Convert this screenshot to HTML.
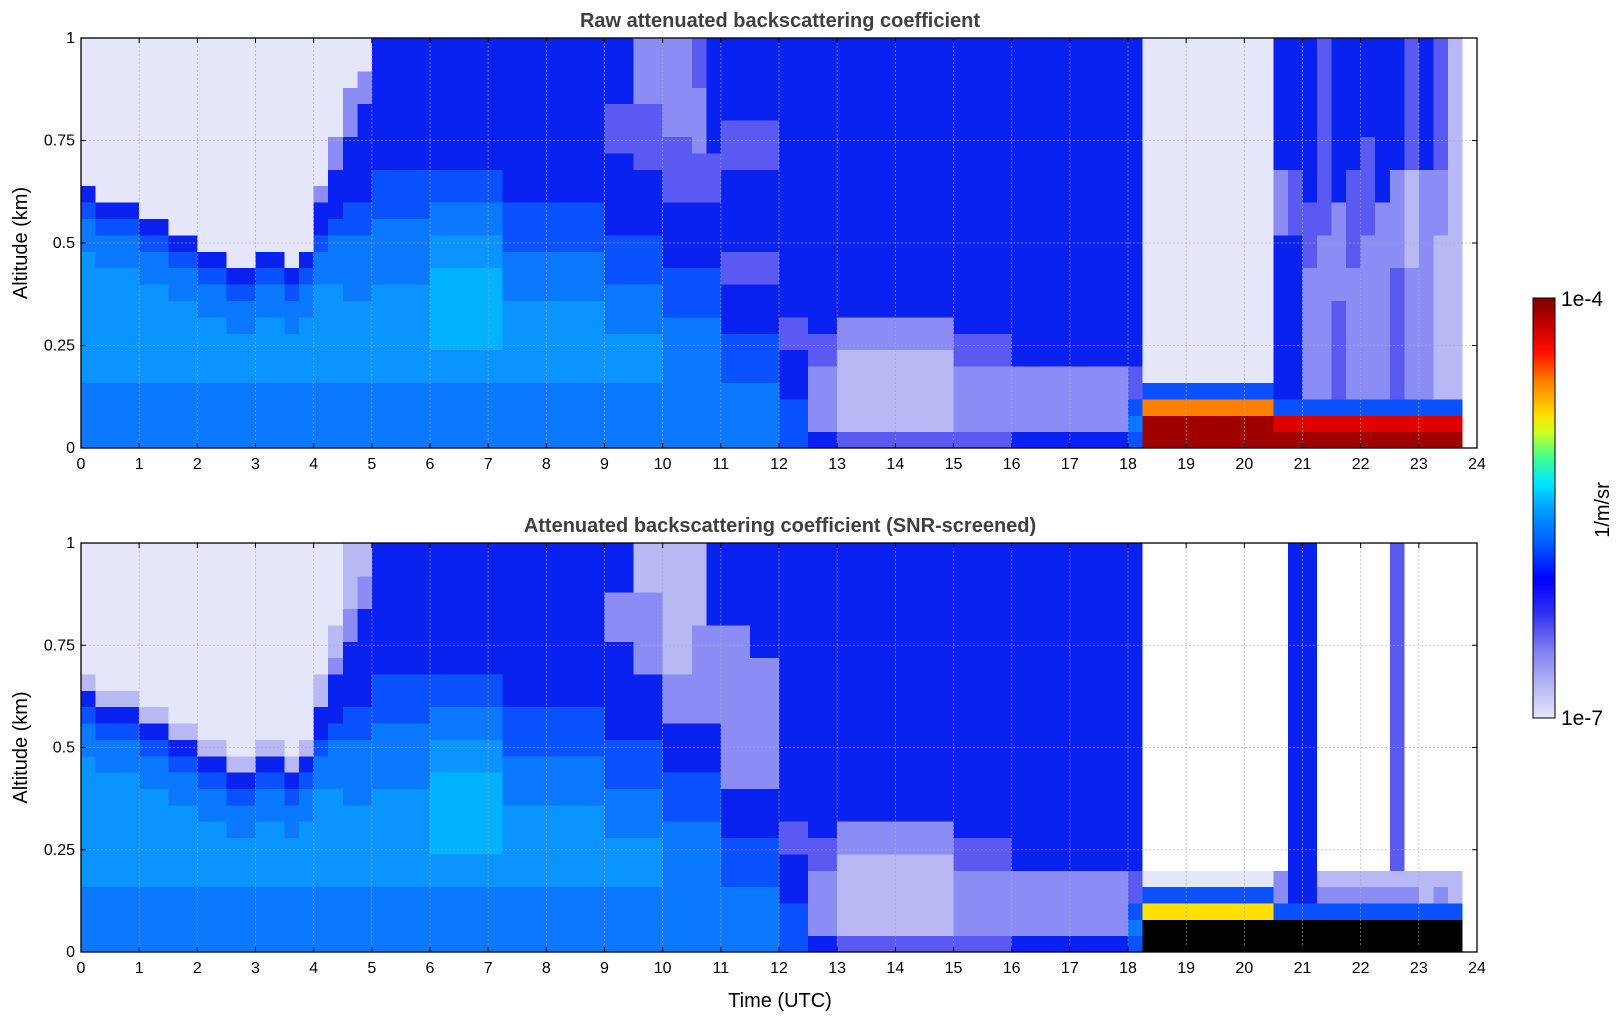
<!DOCTYPE html>
<html><head><meta charset="utf-8"><style>
body{margin:0;background:#fff;font-family:"Liberation Sans",sans-serif}
svg{display:block}
</style></head><body>
<svg id="chart" width="1621" height="1020" xmlns="http://www.w3.org/2000/svg"></svg>
<script>
// Heatmap data: one string per 0.25 h column, levels bottom->top in 0.04 km bins (RLE: "6x4" = level 6 four times)
const levelColors = {"0":"#e6e6fa","1":"#b8b8f5","2":"#8c8cf5","3":"#5a5af2","4":"#0a22f0","5":"#0a52ff","6":"#0a78ff","7":"#0a94ff","8":"#00b2ff","9":"#00e0ff","g":"#40ff80","y":"#ffe000","o":"#ff8000","r":"#e00000","d":"#a00000","k":"#000000","w":"#ffffff"};
const xTicks = [0,1,2,3,4,5,6,7,8,9,10,11,12,13,14,15,16,17,18,19,20,21,22,23,24];
const yTicks = [0,0.25,0.5,0.75,1];
const yTickLabels = ["0","0.25","0.5","0.75","1"];
const rawCols = [
"6x4 7x8 6x2 5 4 0x9","6x4 7x7 6x2 5 4 0x10","6x4 7x7 6x2 5 4 0x10","6x4 7x7 6x2 5 4 0x10",
"6x4 7x6 6x2 5 4 0x11","6x4 7x6 6x2 5 4 0x11","6x4 7x5 6x2 5 4 0x12","6x4 7x5 6x2 5 4 0x12",
"6x4 7x4 6x2 5 4 0x13","6x4 7x4 6x2 5 4 0x13","6x4 7x3 6x2 5 4 0x14","6x4 7x3 6x2 5 4 0x14",
"6x4 7x4 6x2 5 4 0x13","6x4 7x4 6x2 5 4 0x13","6x4 7x3 6x2 5 4 0x14","6x4 7x4 6x2 5 4 0x13",
"6x4 7x6 6x2 5 4x2 2 0x9","6x4 7x6 6x3 5 4x3 2x2 0x6","6x4 7x5 6x4 5x2 4x4 2x3 0x3","6x4 7x5 6x4 5x2 4x6 2x2 0x2",
"6x4 7x6 6x4 5x3 4x8","6x4 7x6 6x4 5x3 4x8","6x4 7x6 6x4 5x3 4x8","6x4 7x6 6x4 5x3 4x8",
"6x4 7x2 8x5 7x2 6x2 5x2 4x8","6x4 7x2 8x5 7x2 6x2 5x2 4x8","6x4 7x2 8x5 7x2 6x2 5x2 4x8","6x4 7x2 8x5 7x2 6x2 5x2 4x8","6x4 7x2 8x5 7x2 6x2 5x2 4x8",
"6x4 7x5 6x3 5x3 4x10","6x4 7x5 6x3 5x3 4x10","6x4 7x5 6x3 5x3 4x10","6x4 7x5 6x3 5x3 4x10","6x4 7x5 6x3 5x3 4x10","6x4 7x5 6x3 5x3 4x10","6x4 7x5 6x3 5x3 4x10",
"6x4 7x3 6x3 5x3 4x5 3x3 4x4","6x4 7x3 6x3 5x3 4x5 3x3 4x4","6x4 7x3 6x3 5x3 4x4 3x4 2x4","6x4 7x3 6x3 5x3 4x4 3x4 2x4",
"6x8 5x3 4x4 3x4 2x6","6x8 5x3 4x4 3x4 2x6","6x8 5x3 4x4 3x3 2x4 3x3","6x8 5x3 4x4 3x3 4x7",
"6x4 5x3 4x3 3x2 4x5 3x3 4x5","6x4 5x3 4x3 3x2 4x5 3x3 4x5","6x4 5x3 4x3 3x2 4x5 3x3 4x5","6x4 5x3 4x3 3x2 4x5 3x3 4x5",
"5x3 4x3 3x2 4x17","5x3 4x3 3x2 4x17","4 2x4 3x2 4x18","4 2x4 3x2 4x18",
"3 1x5 2x2 4x17","3 1x5 2x2 4x17","3 1x5 2x2 4x17","3 1x5 2x2 4x17","3 1x5 2x2 4x17","3 1x5 2x2 4x17","3 1x5 2x2 4x17","3 1x5 2x2 4x17",
"3 2x4 3x2 4x18","3 2x4 3x2 4x18","3 2x4 3x2 4x18","3 2x4 3x2 4x18",
"4 2x4 4x20","4 2x4 4x20","4 2x4 4x20","4 2x4 4x20","4 2x4 4x20","4 2x4 4x20","4 2x4 4x20","4 2x4 4x20",
"5 6 5 3x2 4x20",
"dx2 o 5 0x21","dx2 o 5 0x21","dx2 o 5 0x21","dx2 o 5 0x21","dx2 o 5 0x21","dx2 o 5 0x21","dx2 o 5 0x21","dx2 o 5 0x21","dx2 o 5 0x21",
"d r 5 4x10 2x4 4x8","d r 5 4x10 3x4 4x8","d r 5 2x8 3x4 4x10","d r 5 2x10 3x12",
"d r 5 3x6 2x6 4x10","d r 5 2x8 3x6 4x8","d r 5 2x10 3x6 4x6","d r 5 2x12 4x10",
"d r 5 3x8 2x6 4x8","d r 5 2x8 1x6 3x8","d r 5 2x14 4x8","d r 5 1x10 2x4 3x8",
"d r 5 1x22","wx25"];
const snrCols = [
"6x4 7x8 6x2 5 4 1 0x8","6x4 7x7 6x2 5 4 1 0x9","6x4 7x7 6x2 5 4 1 0x9","6x4 7x7 6x2 5 4 1 0x9",
"6x4 7x6 6x2 5 4 1 0x10","6x4 7x6 6x2 5 4 1 0x10","6x4 7x5 6x2 5 4 1 0x11","6x4 7x5 6x2 5 4 1 0x11",
"6x4 7x4 6x2 5 4 1 0x12","6x4 7x4 6x2 5 4 1 0x12","6x4 7x3 6x2 5 4 1 0x13","6x4 7x3 6x2 5 4 1 0x13",
"6x4 7x4 6x2 5 4 1 0x12","6x4 7x4 6x2 5 4 1 0x12","6x4 7x3 6x2 5 4 1 0x13","6x4 7x4 6x2 5 4 1 0x12",
"6x4 7x6 6x2 5 4x2 1x2 0x8","6x4 7x6 6x3 5 4x3 2 1x2 0x5","6x4 7x5 6x4 5x2 4x4 2x2 1x4","6x4 7x5 6x4 5x2 4x6 2x2 1x2",
"6x4 7x6 6x4 5x3 4x8","6x4 7x6 6x4 5x3 4x8","6x4 7x6 6x4 5x3 4x8","6x4 7x6 6x4 5x3 4x8",
"6x4 7x2 8x5 7x2 6x2 5x2 4x8","6x4 7x2 8x5 7x2 6x2 5x2 4x8","6x4 7x2 8x5 7x2 6x2 5x2 4x8","6x4 7x2 8x5 7x2 6x2 5x2 4x8","6x4 7x2 8x5 7x2 6x2 5x2 4x8",
"6x4 7x5 6x3 5x3 4x10","6x4 7x5 6x3 5x3 4x10","6x4 7x5 6x3 5x3 4x10","6x4 7x5 6x3 5x3 4x10","6x4 7x5 6x3 5x3 4x10","6x4 7x5 6x3 5x3 4x10","6x4 7x5 6x3 5x3 4x10",
"6x4 7x3 6x3 5x3 4x6 2x3 4x3","6x4 7x3 6x3 5x3 4x6 2x3 4x3","6x4 7x3 6x3 5x3 4x4 2x5 1x3","6x4 7x3 6x3 5x3 4x4 2x5 1x3",
"6x8 5x3 4x3 2x3 1x8","6x8 5x3 4x3 2x3 1x8","6x8 5x3 4x3 2x6 1x5","6x8 5x3 4x3 2x6 4x5",
"6x4 5x3 4x3 2x10 4x5","6x4 5x3 4x3 2x10 4x5","6x4 5x3 4x3 2x8 4x7","6x4 5x3 4x3 2x8 4x7",
"5x3 4x3 3x2 4x17","5x3 4x3 3x2 4x17","4 2x4 3x2 4x18","4 2x4 3x2 4x18",
"3 1x5 2x2 4x17","3 1x5 2x2 4x17","3 1x5 2x2 4x17","3 1x5 2x2 4x17","3 1x5 2x2 4x17","3 1x5 2x2 4x17","3 1x5 2x2 4x17","3 1x5 2x2 4x17",
"3 2x4 3x2 4x18","3 2x4 3x2 4x18","3 2x4 3x2 4x18","3 2x4 3x2 4x18",
"4 2x4 4x20","4 2x4 4x20","4 2x4 4x20","4 2x4 4x20","4 2x4 4x20","4 2x4 4x20","4 2x4 4x20","4 2x4 4x20",
"5 6 5 3x2 4x20",
"kx2 y 5 0 wx20","kx2 y 5 0 wx20","kx2 y 5 0 wx20","kx2 y 5 0 wx20","kx2 y 5 0 wx20","kx2 y 5 0 wx20","kx2 y 5 0 wx20","kx2 y 5 0 wx20","kx2 y 5 0 wx20",
"kx2 5 2x2 wx20","kx2 5 4x22","kx2 5 4x22","kx2 5 2 1 wx20",
"kx2 5 2 1 wx20","kx2 5 2 1 wx20","kx2 5 2 1 wx20","kx2 5 2 1 wx20",
"kx2 5 2 1 3x20","kx2 5 2 1 wx20","kx2 5 1x2 wx20","kx2 5 2 1 wx20",
"kx2 5 1x2 wx20","wx25"];
const colStep = 0.25, binKm = 0.04;
const cbStops = [[0,"#e6e6fa"],[0.08,"#b4b4f5"],[0.16,"#8080f0"],[0.25,"#3030f0"],[0.33,"#0000ff"],[0.42,"#0060ff"],[0.5,"#00a0ff"],[0.56,"#00e8ff"],[0.62,"#40ff90"],[0.68,"#d0ff20"],[0.72,"#ffe000"],[0.8,"#ff8000"],[0.87,"#ff1000"],[0.94,"#c00000"],[1,"#800000"]];

const NS="http://www.w3.org/2000/svg";
const svg=document.getElementById('chart');
function mk(tag,attrs,parent){const e=document.createElementNS(NS,tag);for(const k in attrs)e.setAttribute(k,attrs[k]);(parent||svg).appendChild(e);return e;}
function decode(s){let out=[];s.split(' ').forEach(tok=>{const p=tok.split('x');const n=p.length>1?parseInt(p[1]):1;for(let i=0;i<n;i++)out.push(p[0]);});return out;}
const CX=780;
function panel(top,bottom,cols,title,pname,showXLabel){
  const L=81,R=1477,T=top,B=bottom;
  const xs=t=>L+(t/24)*(R-L);
  const ys=a=>B-a*(B-T);
  const g=mk('g',{});
  
  
  mk('rect',{x:L,y:T,width:R-L,height:B-T,fill:'#fff'},g);
  const hm=mk('g',{'shape-rendering':'crispEdges'},g);
  
  
  cols.forEach((c,i)=>{
    const lv=decode(c);
    const x0=xs(i*colStep),x1=xs((i+1)*colStep);
    lv.forEach((v,j)=>{
      const y1=ys(j*binKm),y0=ys(Math.min(1,(j+1)*binKm));
      const r=mk('rect',{x:x0,y:y0,width:x1-x0+0.6,height:y1-y0+0.6,fill:levelColors[v]},hm);
      
      
    });
  });
  xTicks.forEach(t=>{if(t>0&&t<24){const l=mk('line',{x1:xs(t),x2:xs(t),y1:T,y2:B,stroke:'#aaa','stroke-width':0.8,'stroke-dasharray':'2,2',opacity:0.8},g);}});
  yTicks.forEach(a=>{if(a>0&&a<1){const l=mk('line',{x1:L,x2:R,y1:ys(a),y2:ys(a),stroke:'#aaa','stroke-width':0.8,'stroke-dasharray':'2,2',opacity:0.8},g);}});
  const fr=mk('rect',{x:L,y:T,width:R-L,height:B-T,fill:'none',stroke:'#000','stroke-width':1.3},g);
  
  xTicks.forEach(t=>{
    mk('line',{x1:xs(t),x2:xs(t),y1:B,y2:B-5,stroke:'#000'},g);
    mk('line',{x1:xs(t),x2:xs(t),y1:T,y2:T+5,stroke:'#000'},g);
    const tx=mk('text',{x:xs(t),y:B+21,'font-size':16,'text-anchor':'middle'},g);
    tx.textContent=t;
    
  });
  yTicks.forEach((a,i)=>{
    mk('line',{x1:L,x2:L+5,y1:ys(a),y2:ys(a),stroke:'#000'},g);
    mk('line',{x1:R,x2:R-5,y1:ys(a),y2:ys(a),stroke:'#000'},g);
    const tx=mk('text',{x:L-6,y:ys(a)+5,'font-size':16,'text-anchor':'end'},g);
    tx.textContent=yTickLabels[i];
    
  });
  const tt=mk('text',{x:CX,y:T-11,'font-size':20,'font-weight':'bold','text-anchor':'middle',fill:'#404040'},g);
  tt.textContent=title;
  
  const yl=mk('text',{x:0,y:0,'font-size':20,'text-anchor':'middle',transform:`translate(27,${(T+B)/2}) rotate(-90)`},g);
  yl.textContent='Altitude (km)';
  
  if(showXLabel){const xl=mk('text',{x:CX,y:1007,'font-size':20,'text-anchor':'middle'},g);xl.textContent='Time (UTC)';}
}
panel(38,448,rawCols,'Raw attenuated backscattering coefficient','raw-panel',false);
panel(543,952,snrCols,'Attenuated backscattering coefficient (SNR-screened)','snr-panel',true);

const defs=mk('defs',{});
const lg=mk('linearGradient',{id:'cbg',x1:0,y1:1,x2:0,y2:0},defs);
cbStops.forEach(s=>mk('stop',{offset:s[0],'stop-color':s[1]},lg));
const cb=mk('rect',{x:1533,y:298,width:22,height:420,fill:'url(#cbg)',stroke:'#000','stroke-width':1});

const c1=mk('text',{x:1561,y:306,'font-size':21});c1.textContent='1e-4';

const c2=mk('text',{x:1561,y:725,'font-size':21});c2.textContent='1e-7';

const cu=mk('text',{x:0,y:0,'font-size':20,'text-anchor':'middle',transform:'translate(1609,510) rotate(-90)'});cu.textContent='1/m/sr';

</script>
</body></html>
